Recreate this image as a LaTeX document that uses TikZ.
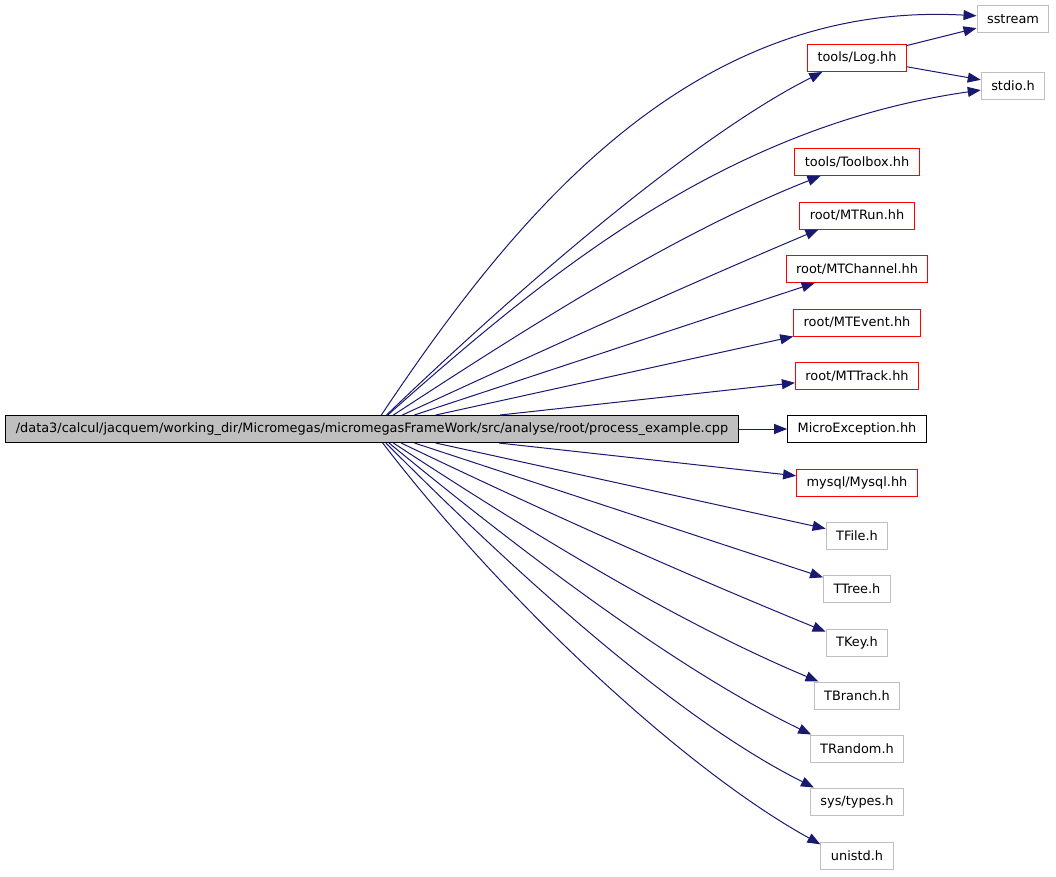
\documentclass[tikz,border=0pt]{standalone}
\usepackage{fontspec}
\setmainfont{DejaVu Sans}
\usetikzlibrary{arrows.meta}
\definecolor{edgeblue}{HTML}{191970}
\definecolor{boxgray}{HTML}{BFBFBF}
\tikzset{
  file/.style={draw=boxgray, line width=1pt, minimum height=27pt, inner xsep=10pt, inner ysep=0pt, font=\fontsize{12.9}{14}\selectfont},
  docfile/.style={file, draw=red},
  plainfile/.style={file, draw=black},
  current/.style={file, draw=black, fill=boxgray},
  inc/.style={draw=edgeblue, line width=1pt, -{Triangle[length=13pt,width=10pt,fill=edgeblue]}}
}
\begin{document}
\begin{tikzpicture}[x=1pt,y=-1pt]
    \useasboundingbox (0,0) rectangle (1056,876);
    % the file and what it includes
    \node[current] (main) at (372,429) {/data3/calcul/jacquem/working\_dir/Micromegas/micromegasFrameWork/src/analyse/root/process\_example.cpp};
    \node[file] (sstream) at (1013,19) {sstream};
    \node[docfile] (log) at (857,58) {tools/Log.hh};
    \node[file] (stdio) at (1013,85.5) {stdio.h};
    \node[docfile] (toolbox) at (857,162) {tools/Toolbox.hh};
    \node[docfile] (mtrun) at (857,215.5) {root/MTRun.hh};
    \node[docfile] (mtchannel) at (857,269) {root/MTChannel.hh};
    \node[docfile] (mtevent) at (857,322.5) {root/MTEvent.hh};
    \node[docfile] (mttrack) at (857,376) {root/MTTrack.hh};
    \node[plainfile] (microexc) at (857,429) {MicroException.hh};
    \node[docfile] (mysql) at (857,482.5) {mysql/Mysql.hh};
    \node[file] (tfile) at (857,535.5) {TFile.h};
    \node[file] (ttree) at (857,588.5) {TTree.h};
    \node[file] (tkey) at (857,642.5) {TKey.h};
    \node[file] (tbranch) at (857,695.5) {TBranch.h};
    \node[file] (trandom) at (857,748.5) {TRandom.h};
    \node[file] (systypes) at (857,801.5) {sys/types.h};
    \node[file] (unistd) at (857,855.5) {unistd.h};
    % upper includes
    \draw[inc] (main) .. controls (515,215) and (690,0) .. (sstream.175);
    \draw[inc] (main) .. controls (515,291.5) and (693,137) .. (log.-158);
    \draw[inc] (main) .. controls (540,280) and (721,127) .. (stdio);
    \draw[inc] (log) -- (sstream);
    \draw[inc] (log) -- (stdio);
    \draw[inc] (main) .. controls (532,324.5) and (677,232.5) .. (toolbox.-159);
    \draw[inc] (main) .. controls (538,352.5) and (678,288.8) .. (mtrun.-160);
    \draw[inc] (main) -- (mtchannel);
    \draw[inc] (main) -- (mtevent);
    \draw[inc] (main) -- (mttrack);
    \draw[inc] (main) -- (microexc);
    % lower includes
    \draw[inc] (main) -- (mysql);
    \draw[inc] (main) -- (tfile);
    \draw[inc] (main) -- (ttree);
    \draw[inc] (main) .. controls (546,512.5) and (686,574.6) .. (tkey.161);
    \draw[inc] (main) .. controls (534,534.9) and (677,622.2) .. (tbranch.160);
    \draw[inc] (main) .. controls (518,549) and (675,668.8) .. (trandom.163);
    \draw[inc] (main) .. controls (515,572.5) and (675,718) .. (systypes.162);
    \draw[inc] (main) .. controls (502,598.5) and (682,768) .. (unistd.163);
\end{tikzpicture}
\end{document}
